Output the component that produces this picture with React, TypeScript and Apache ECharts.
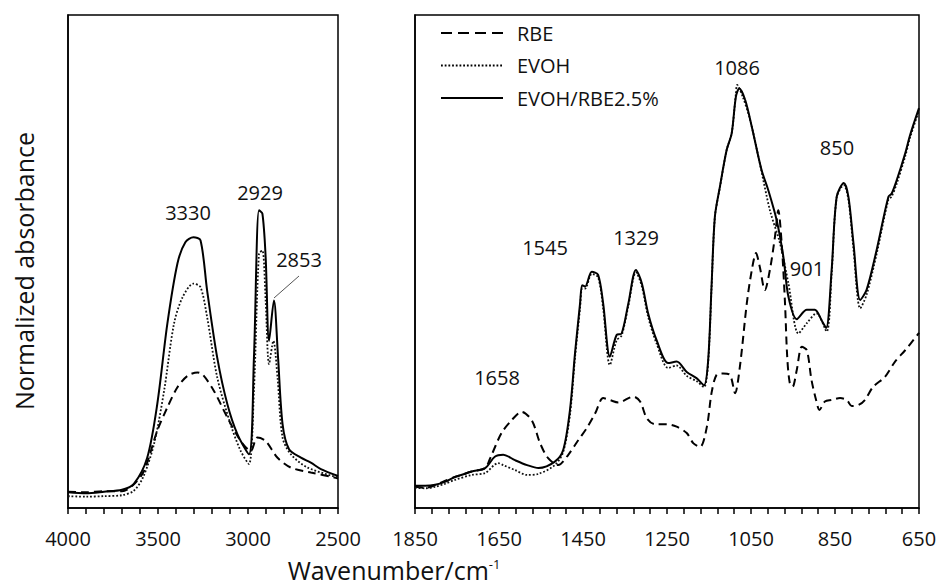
import React, { useEffect, useRef } from "react";
import * as echarts from "echarts";

// ---- data: [wavenumber (cm-1), normalized absorbance (0-100)] ----
const RBE_LEFT: number[][] = [
  [4000, 3.3], [3900, 3.2], [3800, 3.4], [3700, 3.4], [3640, 4.6], [3578, 7.5], [3504, 15.7],
  [3448, 20.4], [3392, 24.5], [3336, 26.8], [3280, 27.5], [3250, 27.0], [3190, 23.8], [3115, 18.4],
  [3041, 13.6], [2985, 11.6], [2948, 14.3], [2902, 13.6], [2836, 10.2], [2762, 8.2], [2651, 7.2],
  [2521, 6.2], [2500, 6.0],
];
const EVOH_LEFT: number[][] = [
  [4000, 2.4], [3900, 2.3], [3800, 2.4], [3700, 2.6], [3634, 3.5], [3582, 6.3], [3522, 13.0],
  [3466, 23.8], [3411, 37.4], [3364, 42.7], [3303, 45.5], [3264, 44.8], [3227, 38.7], [3171, 26.5],
  [3097, 17.0], [3041, 11.6], [2995, 8.9], [2967, 23.8], [2939, 51.6], [2920, 52.2], [2902, 42.1],
  [2883, 29.2], [2859, 33.9], [2836, 26.5], [2808, 14.3], [2762, 10.9], [2669, 8.2], [2500, 6.2],
];
const BLEND_LEFT: number[][] = [
  [4000, 3.2], [3900, 3.0], [3800, 3.3], [3700, 3.7], [3634, 4.9], [3560, 10.2], [3504, 21.1],
  [3448, 37.4], [3392, 49.6], [3348, 53.9], [3303, 54.9], [3264, 54.3], [3227, 44.1], [3171, 30.5],
  [3115, 21.1], [3059, 15.0], [2995, 10.9], [2967, 30.5], [2939, 60.4], [2920, 59.7], [2902, 50.9],
  [2883, 33.9], [2856, 42.1], [2833, 30.5], [2808, 17.0], [2772, 11.9], [2706, 10.2], [2651, 9.2],
  [2595, 7.9], [2500, 6.5],
];
const RBE_RIGHT: number[][] = [
  [1850, 4.3], [1826, 4.1], [1802, 4.6], [1779, 5.5], [1755, 6.3], [1740, 6.7], [1715, 7.4],
  [1683, 8.1], [1671, 10.1], [1644, 15.2], [1620, 17.8], [1596, 19.5], [1572, 17.8], [1552, 13.1],
  [1533, 10.1], [1509, 8.7], [1485, 10.8], [1461, 13.8], [1441, 16.2], [1421, 19.2], [1402, 22.3],
  [1386, 21.9], [1366, 21.4], [1330, 22.6], [1314, 21.6], [1298, 18.2], [1279, 17.0], [1251, 17.0],
  [1227, 16.5], [1203, 15.2], [1187, 13.1], [1171, 12.4], [1155, 16.5], [1144, 23.3], [1132, 27.0],
  [1116, 27.3], [1100, 27.0], [1088, 23.3], [1076, 29.0], [1060, 41.5], [1048, 48.3], [1038, 51.7],
  [1029, 48.9], [1017, 44.2], [1005, 48.3], [993, 55.0], [985, 60.4], [977, 53.7], [969, 41.5],
  [964, 31.0], [958, 25.5], [951, 24.6], [941, 28.0], [929, 32.7], [917, 32.0], [906, 26.0],
  [895, 21.9], [887, 19.9], [874, 21.6], [858, 21.9], [838, 22.3], [822, 21.9], [810, 20.7],
  [794, 20.9], [779, 21.9], [759, 24.6], [731, 26.6], [707, 29.7], [683, 32.0], [650, 35.5],
];
const EVOH_RIGHT: number[][] = [
  [1850, 4.1], [1826, 4.0], [1802, 4.3], [1779, 4.9], [1755, 5.7], [1715, 6.7], [1683, 7.1],
  [1652, 9.1], [1640, 8.7], [1612, 7.7], [1583, 6.7], [1557, 6.9], [1517, 8.7], [1497, 11.4],
  [1481, 18.9], [1469, 30.5], [1457, 40.5], [1452, 44.5], [1445, 44.5], [1429, 47.5], [1414, 46.8],
  [1402, 40.5], [1386, 29.0], [1370, 34.0], [1358, 35.0], [1342, 41.0], [1324, 47.8], [1310, 45.0],
  [1295, 38.8], [1275, 33.4], [1247, 28.4], [1227, 28.9], [1203, 26.8], [1179, 25.7], [1162, 24.5],
  [1152, 29.5], [1144, 44.5], [1136, 59.0], [1124, 65.0], [1108, 72.6], [1096, 76.0], [1086, 84.0],
  [1083, 85.8], [1070, 83.5], [1052, 78.7], [1029, 69.9], [1005, 60.4], [981, 53.7], [961, 45.6],
  [937, 35.4], [917, 37.5], [894, 39.5], [870, 35.8], [858, 47.5], [846, 63.0], [829, 65.5],
  [818, 62.5], [806, 52.5], [790, 40.5], [775, 43.2], [751, 51.5], [723, 62.5], [715, 63.2],
  [703, 65.8], [683, 71.3], [671, 75.2], [650, 80.6],
];
const BLEND_RIGHT: number[][] = [
  [1850, 4.5], [1826, 4.5], [1802, 4.7], [1779, 5.3], [1755, 6.3], [1740, 6.7], [1715, 7.4],
  [1683, 8.1], [1660, 10.4], [1640, 10.8], [1612, 9.7], [1583, 8.7], [1556, 8.1], [1517, 9.4],
  [1497, 11.8], [1481, 19.9], [1469, 31.4], [1457, 41.5], [1452, 45.2], [1445, 44.9], [1429, 47.9],
  [1414, 47.3], [1402, 41.5], [1386, 30.7], [1370, 35.1], [1358, 35.4], [1342, 41.5], [1324, 48.3],
  [1310, 45.6], [1295, 39.5], [1275, 34.1], [1247, 29.4], [1227, 29.7], [1203, 27.6], [1179, 26.3],
  [1162, 24.9], [1152, 30.0], [1144, 44.9], [1136, 59.1], [1124, 65.2], [1108, 72.6], [1096, 76.0],
  [1086, 83.4], [1078, 85.1], [1064, 82.8], [1048, 77.3], [1025, 68.6], [1009, 64.5], [989, 58.4],
  [973, 51.0], [961, 42.9], [941, 38.3], [917, 40.2], [898, 40.2], [882, 38.1], [871, 36.5],
  [858, 48.3], [846, 63.1], [829, 65.9], [818, 63.1], [806, 53.7], [790, 42.2], [775, 44.2],
  [751, 52.3], [723, 63.1], [715, 63.8], [703, 66.5], [683, 71.9], [671, 75.7], [650, 81.1],
];

const SERIES_NAMES = ["RBE", "EVOH", "EVOH/RBE2.5%"];
const LEFT_RANGE = { min: 2500, max: 4000, interval: 500 };
const RIGHT_RANGE = { min: 650, max: 1850, interval: 200 };
const PEAK_TEXTS = ["3330", "2929", "2853", "1658", "1545", "1329", "1086", "901", "850"];

// ---- layout (pixels) ----
const PEAK_POS: number[][] = [
  [188, 212], [260, 192], [299, 259], [497, 377], [545, 247], [636, 237], [737, 67], [807, 268], [837, 147],
];
const LEGEND_ROWS = [33, 65.5, 98];
const FONT = '"Open Sans", "Noto Sans", sans-serif';
const INK = "#111";

const LINE_STYLES: any[] = [
  { color: "#000", width: 2, type: [8, 5], cap: "butt" },
  { color: "#111", width: 1.8, type: [1.8, 1.9], cap: "butt" },
  { color: "#000", width: 2, type: "solid" },
];
const LEGEND_DASH: any[] = [[11, 6], [1.8, 1.9], null];

export default function App() {
  const ref = useRef<HTMLDivElement>(null);

  useEffect(() => {
    if (!ref.current) return;
    const chart = echarts.init(ref.current, null, { renderer: "svg" });

    const xAxisBase = (gridIndex: number, range: any) => ({
      gridIndex,
      type: "value",
      min: range.min,
      max: range.max,
      interval: range.interval,
      inverse: true,
      axisLine: { show: true, onZero: false, lineStyle: { color: "#000", width: 1.5 } },
      axisTick: { show: true, length: 6, lineStyle: { color: "#000", width: 1.5 } },
      minorTick: { show: true, splitNumber: 5, length: 6, lineStyle: { color: "#000", width: 1.5 } },
      axisLabel: {
        fontSize: 20,
        color: INK,
        margin: 20,
        fontFamily: FONT,
        showMinLabel: true,
        showMaxLabel: true,
        formatter: (v: number) => String(v),
      },
      splitLine: { show: false },
      minorSplitLine: { show: false },
    });
    const yAxisBase = (gridIndex: number) => ({
      gridIndex,
      type: "value",
      min: 0,
      max: 100,
      axisLine: { show: true, lineStyle: { color: "#000", width: 1.5 } },
      axisTick: { show: false },
      axisLabel: { show: false },
      splitLine: { show: false },
    });

    const panels = [
      [RBE_LEFT, EVOH_LEFT, BLEND_LEFT],
      [RBE_RIGHT, EVOH_RIGHT, BLEND_RIGHT],
    ];
    const series: any[] = [];
    panels.forEach((sets, p) => {
      sets.forEach((data, i) => {
        series.push({
          type: "line",
          name: SERIES_NAMES[i],
          xAxisIndex: p,
          yAxisIndex: p,
          data,
          showSymbol: false,
          symbol: "none",
          smooth: 0.3,
          color: "#000",
          lineStyle: LINE_STYLES[i],
          z: 2 + i,
        });
      });
    });

    const graphics: any[] = PEAK_TEXTS.map((t, i) => ({
      type: "text",
      x: PEAK_POS[i][0],
      y: PEAK_POS[i][1],
      style: { text: t, fontSize: 20, fontFamily: FONT, fill: INK, align: "center", verticalAlign: "middle" },
      z: 10,
    }));
    graphics.push({
      type: "line",
      shape: { x1: 299, y1: 276, x2: 274, y2: 298 },
      style: { stroke: "#555", lineWidth: 1 },
      z: 10,
    });
    // legend (drawn, matching the reference's line samples)
    SERIES_NAMES.forEach((name, i) => {
      graphics.push({
        type: "line",
        shape: { x1: 441, y1: LEGEND_ROWS[i], x2: 503, y2: LEGEND_ROWS[i] },
        style: {
          stroke: "#000",
          lineWidth: LINE_STYLES[i].width,
          lineDash: LEGEND_DASH[i],
        },
        z: 10,
      });
      graphics.push({
        type: "text",
        x: 517,
        y: LEGEND_ROWS[i],
        style: { text: name, fontSize: 20, fontFamily: FONT, fill: INK, align: "left", verticalAlign: "middle" },
        z: 10,
      });
    });
    graphics.push({
      type: "text",
      x: 24,
      y: 271,
      rotation: Math.PI / 2,
      style: {
        text: "Normalized absorbance",
        fontSize: 25,
        fontFamily: FONT,
        fill: INK,
        align: "center",
        verticalAlign: "middle",
      },
    });
    graphics.push({
      type: "text",
      x: 394,
      y: 570,
      style: {
        text: "Wavenumber/cm{sup|-1}",
        fontSize: 25,
        fontFamily: FONT,
        fill: INK,
        align: "center",
        verticalAlign: "middle",
        rich: { sup: { fontSize: 13, fontFamily: FONT, fill: INK, verticalAlign: "top", lineHeight: 26 } },
      },
    });

    chart.setOption({
      animation: false,
      backgroundColor: "#fff",
      grid: [
        { left: 68, top: 15, width: 270, height: 493, show: true, borderColor: "#000", borderWidth: 1.5 },
        { left: 415, top: 15, width: 504, height: 493, show: true, borderColor: "#000", borderWidth: 1.5 },
      ],
      xAxis: [xAxisBase(0, LEFT_RANGE), xAxisBase(1, RIGHT_RANGE)],
      yAxis: [yAxisBase(0), yAxisBase(1)],
      graphic: graphics,
      series,
    });

    return () => chart.dispose();
  }, []);

  return (
    <div
      ref={ref}
      style={{ position: "fixed", left: 0, top: 0, width: 943, height: 586, background: "#fff" }}
    />
  );
}
